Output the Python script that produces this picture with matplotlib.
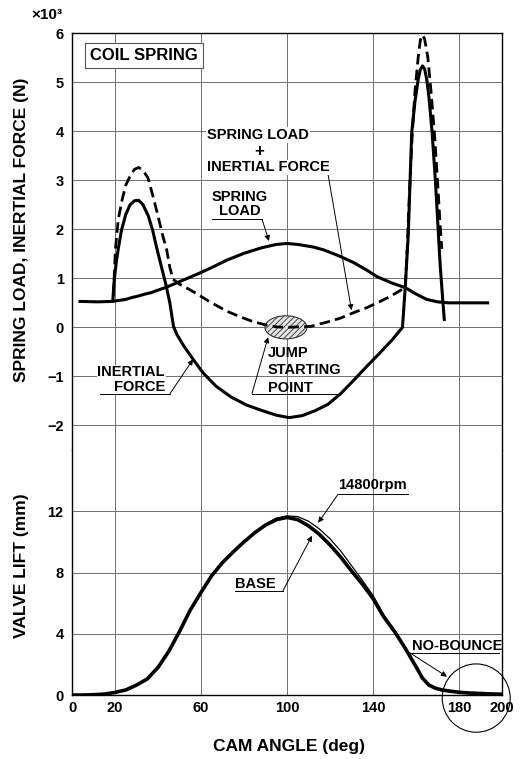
import matplotlib
matplotlib.use('Agg')
import matplotlib.pyplot as plt
from matplotlib.patches import Ellipse

plt.rcParams['font.family'] = ['Liberation Sans', 'DejaVu Sans']
plt.rcParams['font.weight'] = 'bold'
plt.rcParams['hatch.linewidth'] = 0.6

# --- spring load (x10^3 N) ---
spring_cam = [3, 12, 19, 22, 25, 28, 31, 34, 37, 40, 44, 51, 58, 65, 72, 80, 88, 95, 100,
              105, 112, 117, 124, 131, 137, 142, 149, 155, 160, 165, 170, 175, 185, 194]
spring_load = [0.53, 0.52, 0.53, 0.55, 0.57, 0.61, 0.64, 0.68, 0.71, 0.76, 0.82, 0.95, 1.08, 1.22, 1.37, 1.51, 1.62, 1.69, 1.71,
               1.69, 1.64, 1.58, 1.46, 1.32, 1.17, 1.03, 0.90, 0.81, 0.68, 0.57, 0.52, 0.50, 0.50, 0.50]

# --- inertial force (x10^3 N) ---
inertial_cam = [19, 19.5, 20.5, 21.5, 23, 25, 27, 29, 31, 33, 35.5, 37.5, 39.5, 41.5, 43.5, 45.5, 47.2,
                48.7, 52, 56.3, 61, 67, 74, 81, 88, 95, 101, 107, 113, 119, 125, 131, 137, 143, 149,
                153.7, 155, 156.4, 158, 159.5, 161, 162, 163, 164, 165, 166, 167.5, 169, 170.3, 171.2,
                172.2, 173.2]
inertial_force = [0.55, 0.9, 1.3, 1.6, 1.98, 2.3, 2.5, 2.58, 2.59, 2.5, 2.27, 1.98, 1.6, 1.25, 0.9, 0.5, 0.02,
                  -0.14, -0.38, -0.65, -0.93, -1.2, -1.42, -1.58, -1.69, -1.79, -1.84, -1.8, -1.7, -1.57, -1.35, -1.08, -0.8, -0.53, -0.25,
                  0.0, 0.82, 1.9, 3.97, 4.6, 5.05, 5.25, 5.33, 5.27, 5.05, 4.7, 3.97, 3.0, 2.0, 1.3,
                  0.7, 0.13]

# --- spring load + inertial force (x10^3 N) ---
total_cam = [19.2, 19.8, 20.2, 21.5, 23.3, 25, 27, 29, 31, 33, 35.3, 37.5, 40, 42, 44, 45.6, 47,
             50, 53.5, 58.6, 63, 67, 72, 78, 84, 90, 95, 100, 105, 111, 118, 125, 131, 137, 142, 148,
             153, 155, 156, 157, 158.3, 159.5, 161, 162, 163, 164, 165.5, 167, 168.5, 170, 171.2, 172]
total_force = [0.64, 1.2, 1.6, 2.2, 2.6, 2.9, 3.08, 3.22, 3.26, 3.2, 3.05, 2.7, 2.27, 1.9, 1.59, 1.2, 0.98,
               0.88, 0.8, 0.67, 0.55, 0.45, 0.33, 0.22, 0.12, 0.05, 0.01, 0.0, 0.01, 0.02, 0.1, 0.19, 0.3, 0.4, 0.5, 0.63,
               0.76, 0.82, 1.7, 2.8, 3.97, 4.8, 5.5, 5.85, 5.96, 5.88, 5.5, 4.8, 4.0, 3.0, 2.1, 1.6]

# --- valve lift (mm) ---
lift_cam = [0, 5, 10, 15, 20, 25, 30, 35, 40, 45, 50, 55, 60, 65, 70, 75, 80, 85, 90, 95, 100,
            105, 110, 115, 120, 125, 130, 135, 140, 145, 150, 155, 160, 163, 166, 169, 172, 176,
            180, 185, 190, 195, 200]
lift_base = [0, 0, 0.02, 0.06, 0.17, 0.33, 0.65, 1.05, 1.8, 2.85, 4.15, 5.55, 6.7, 7.8, 8.65, 9.35, 10.0, 10.6, 11.1, 11.45, 11.6,
             11.45, 11.05, 10.5, 9.8, 9.0, 8.1, 7.25, 6.3, 5.1, 4.15, 3.05, 1.85, 1.1, 0.65, 0.45, 0.33, 0.25,
             0.18, 0.13, 0.1, 0.07, 0.05]
lift_14800 = [0, 0, 0.02, 0.06, 0.17, 0.33, 0.65, 1.05, 1.8, 2.85, 4.15, 5.55, 6.7, 7.8, 8.65, 9.35, 10.0, 10.6, 11.15, 11.55, 11.7,
              11.65, 11.35, 10.85, 10.2, 9.4, 8.45, 7.5, 6.5, 5.25, 4.2, 3.05, 1.85, 1.1, 0.6, 0.4, 0.28, 0.2,
              0.15, 0.1, 0.07, 0.05, 0.04]

x_ticks = [0, 20, 60, 100, 140, 180, 200]
x_grid = [20, 60, 100, 140, 180]
top_yticks = [-2, -1, 0, 1, 2, 3, 4, 5, 6]
bot_yticks = [0, 4, 8, 12]

GRID = '#707070'
lab_fs = 10.5

fig = plt.figure(figsize=(5.2, 7.59), dpi=100)
ax1 = fig.add_axes([0.1385, 0.4071, 0.8269, 0.5494])
ax2 = fig.add_axes([0.1385, 0.0843, 0.8269, 0.3228], sharex=ax1)

for ax in (ax1, ax2):
    ax.set_xlim(0, 200)
    for xg in x_grid:
        ax.axvline(xg, color=GRID, lw=0.7, zorder=0)
    for s in ax.spines.values():
        s.set_linewidth(1.0)
    ax.tick_params(length=0, labelsize=10.5, pad=6)

ax1.set_ylim(-2.5, 6)
ax1.set_yticks(top_yticks)
for yg in top_yticks[:-1]:
    ax1.axhline(yg, color=GRID, lw=0.7, zorder=0)
ax1.spines['bottom'].set_color(GRID)
ax1.spines['bottom'].set_linewidth(0.7)
ax1.tick_params(axis='x', labelbottom=False)

ax2.set_ylim(0, 16)
ax2.set_yticks(bot_yticks)
for yg in bot_yticks[1:]:
    ax2.axhline(yg, color=GRID, lw=0.7, zorder=0)
ax2.spines['top'].set_visible(False)
ax2.set_xticks(x_ticks)
ax2.tick_params(axis='x', pad=4)

# curves, top panel
ax1.plot(spring_cam, spring_load, color='black', lw=2.2, solid_capstyle='butt', zorder=3)
ax1.plot(inertial_cam, inertial_force, color='black', lw=2.2, solid_capstyle='butt', zorder=3)
ax1.plot(total_cam, total_force, color='black', lw=2.0, linestyle=(0, (3.8, 1.9)), zorder=3)

jump = Ellipse((99.5, 0.0), 19.5, 0.47, facecolor='#e4e4e4', edgecolor='#333333',
               hatch='//////', lw=0.8, zorder=2)
ax1.add_patch(jump)

# curves, bottom panel
ax2.plot(lift_cam, lift_base, color='black', lw=2.6, zorder=3)
ax2.plot(lift_cam, lift_14800, color='black', lw=0.9, zorder=4)

arrow = dict(arrowstyle='-|>', lw=0.7, color='black', mutation_scale=8, shrinkA=0, shrinkB=0)


def callout(ax, x0, x1, y, tip, start='right'):
    ax.plot([x0, x1], [y, y], color='black', lw=0.7, clip_on=False, zorder=5)
    sx = x1 if start == 'right' else x0
    ax.annotate('', xy=tip, xytext=(sx, y), arrowprops=arrow, zorder=5)


white = dict(facecolor='white', edgecolor='none', pad=0.5)

# top panel labels
ax1.text(33.5, 5.55, 'COIL SPRING', ha='center', va='center', fontsize=12,
         bbox=dict(boxstyle='square,pad=0.3', facecolor='white', edgecolor='#555555', lw=0.8))

ax1.text(62.8, 3.84, 'SPRING LOAD', ha='left', va='baseline', fontsize=lab_fs, bbox=white, zorder=6)
ax1.text(87, 3.59, '+', ha='center', va='center', fontsize=12, bbox=white, zorder=6)
ax1.text(62.8, 3.18, 'INERTIAL FORCE', ha='left', va='baseline', fontsize=lab_fs, bbox=white, zorder=6)
callout(ax1, 62.3, 119, 3.14, (130, 0.35))

ax1.text(78.1, 2.57, 'SPRING', ha='center', va='baseline', fontsize=lab_fs, zorder=6)
ax1.text(78.1, 2.29, 'LOAD', ha='center', va='baseline', fontsize=lab_fs, zorder=6)
callout(ax1, 65.1, 88.4, 2.2, (91.6, 1.76))

ax1.text(43.3, -1.0, 'INERTIAL', ha='right', va='baseline', fontsize=lab_fs, bbox=white, zorder=6)
ax1.text(43.3, -1.29, 'FORCE', ha='right', va='baseline', fontsize=lab_fs, bbox=white, zorder=6)
callout(ax1, 13, 45.6, -1.35, (56.3, -0.65))

ax1.text(91, -0.61, 'JUMP', ha='left', va='baseline', fontsize=lab_fs, zorder=6)
ax1.text(91, -0.96, 'STARTING', ha='left', va='baseline', fontsize=lab_fs, zorder=6)
ax1.text(91, -1.31, 'POINT', ha='left', va='baseline', fontsize=lab_fs, zorder=6)
callout(ax1, 83.7, 125, -1.35, (91.2, -0.2), start='left')

# bottom panel labels
ax2.text(123.7, 13.44, '14800rpm', ha='left', va='baseline', fontsize=lab_fs, zorder=6)
callout(ax2, 123.7, 156.3, 13.1, (114.5, 11.25), start='left')

ax2.text(75.8, 7.0, 'BASE', ha='left', va='baseline', fontsize=lab_fs, zorder=6)
callout(ax2, 75.8, 98.1, 6.8, (111.6, 10.4))

ax2.text(158.1, 2.95, 'NO-BOUNCE', ha='left', va='baseline', fontsize=lab_fs, zorder=6)
callout(ax2, 157.2, 198.6, 2.75, (174.4, 1.2), start='left')

ring = Ellipse((188, -0.2), 31.6, 4.46, facecolor='none', edgecolor='black', lw=0.8,
               clip_on=False, zorder=6)
ax2.add_patch(ring)

# axis titles
fig.text(47 / 520, 1 - 15 / 759, '×10³', ha='center', va='center', fontsize=11)
fig.text(22 / 520, 1 - 230 / 759, 'SPRING LOAD, INERTIAL FORCE (N)', rotation=90,
         ha='center', va='center', fontsize=12.5)
fig.text(22 / 520, 1 - 566 / 759, 'VALVE LIFT (mm)', rotation=90,
         ha='center', va='center', fontsize=12.5)
fig.text(289 / 520, 1 - 746 / 759, 'CAM ANGLE (deg)', ha='center', va='center', fontsize=12.5)

fig.savefig('out.png', dpi=100, facecolor='white')
